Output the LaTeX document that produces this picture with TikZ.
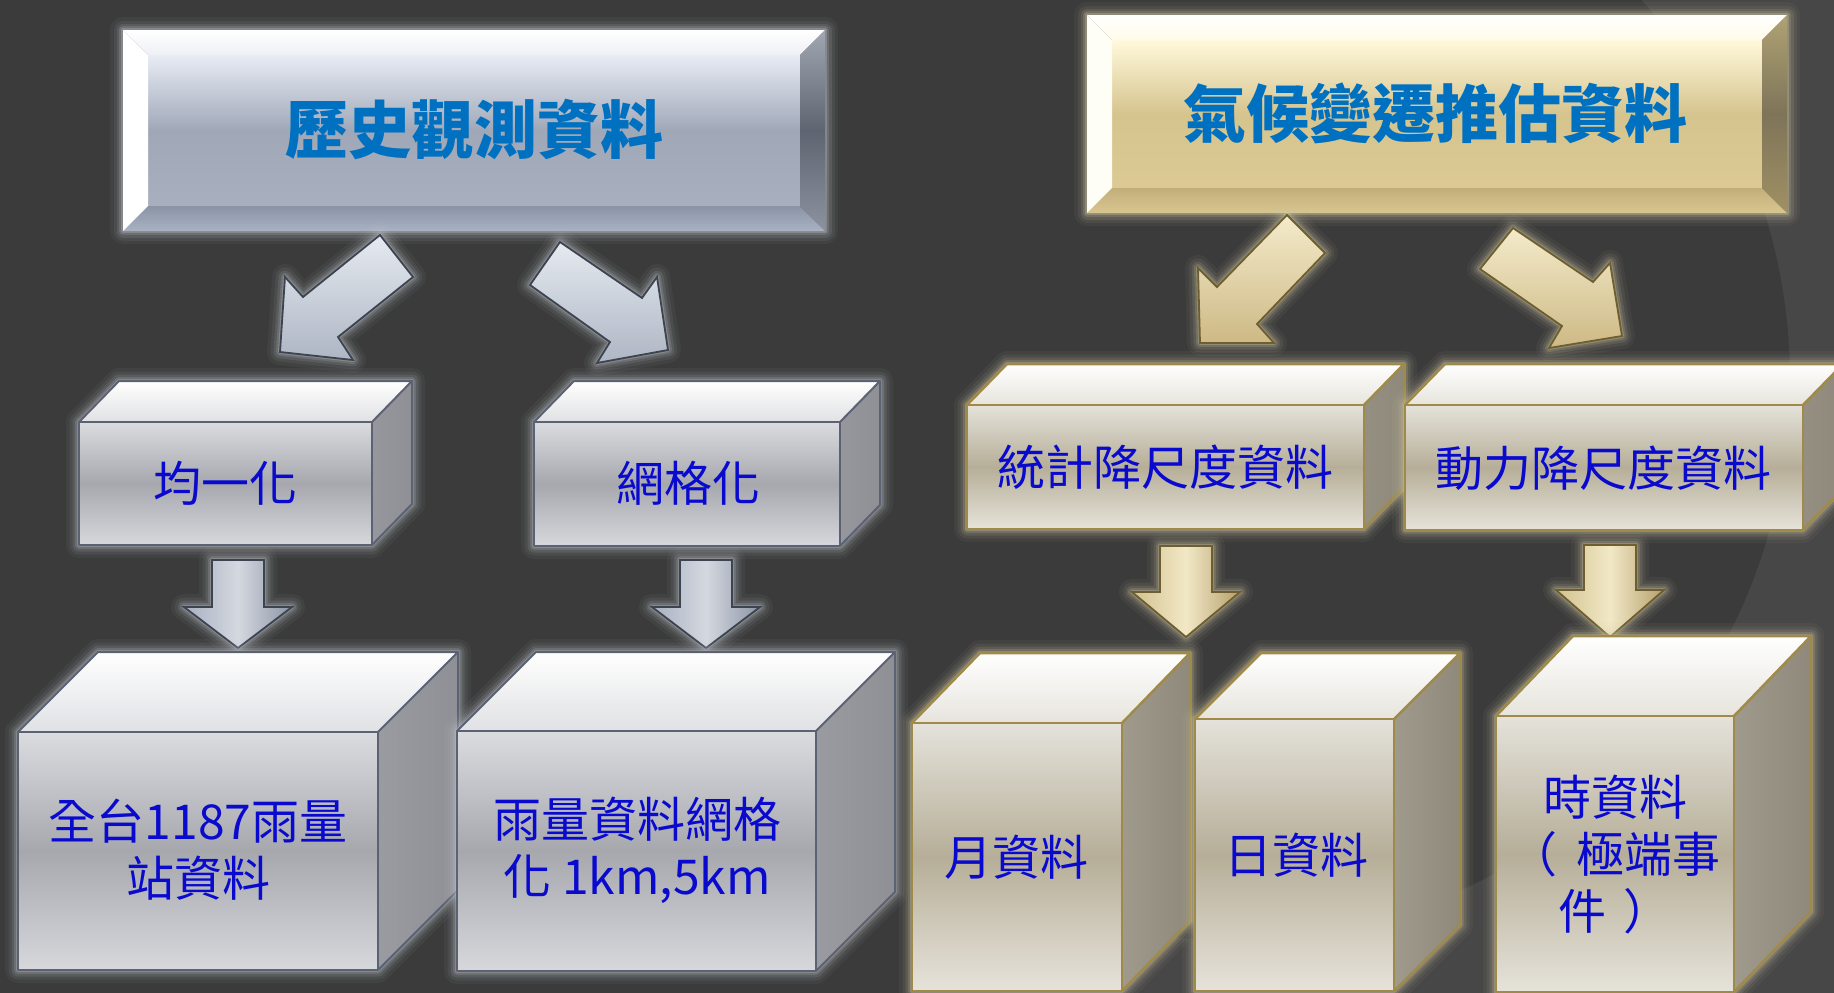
\documentclass[tikz,border=0pt]{standalone}
\usepackage{fontspec}
\newfontfamily\cjk{Noto Sans CJK TC}
\usetikzlibrary{calc}
\definecolor{bg}{HTML}{3B3B3B}
\definecolor{bgl}{HTML}{474747}
\definecolor{ttl}{HTML}{0070C0}
\definecolor{txt}{HTML}{0A0ACF}
\definecolor{sglow}{HTML}{C4C8D0}
\definecolor{gglow}{HTML}{D2CAA6}
\definecolor{sedge}{HTML}{5A6274}
\definecolor{gedge}{HTML}{A08A4A}
\def\defhtml#1{\definecolor{HTML-#1}{HTML}{#1}}
\defhtml{DADCE0}\defhtml{D6D8DC}\defhtml{A6A8AE}\defhtml{E0E1E4}\defhtml{CDCED2}\defhtml{8E9096}
\defhtml{E4E2DA}\defhtml{E6E3DA}\defhtml{B6AE98}\defhtml{E6E4DC}\defhtml{D4D0C4}\defhtml{8E897A}
\defhtml{E8ECF4}\defhtml{A8B0C0}\defhtml{A0A8B8}\defhtml{EEF0F5}\defhtml{8A94A6}\defhtml{A8B2C2}
\defhtml{A0A6B2}\defhtml{8C92A0}\defhtml{5E6470}\defhtml{FFF9DC}\defhtml{DCCA94}\defhtml{D6C48E}
\defhtml{FFFBEA}\defhtml{FFFEF6}\defhtml{C2AE78}\defhtml{D8C690}\defhtml{B0A274}\defhtml{A09064}
\defhtml{7E7458}\defhtml{E6EAF0}\defhtml{AEB6C4}\defhtml{3C4452}\defhtml{F4EBCB}\defhtml{CDB985}
\defhtml{6E5E30}\defhtml{8C94A4}\defhtml{D4D8E0}\defhtml{D2C290}\defhtml{B4A06C}\defhtml{F2E8C6}
\tikzset{
  sfront/.style={top color=HTML-DADCE0, bottom color=HTML-D6D8DC, middle color=HTML-A6A8AE},
  stop/.style={top color=white, bottom color=HTML-E0E1E4},
  sside/.style={left color=HTML-CDCED2, right color=HTML-8E9096},
  sedgeS/.style={draw=sedge, line width=2pt, line join=round},
  gfront/.style={top color=HTML-E4E2DA, bottom color=HTML-E6E3DA, middle color=HTML-B6AE98},
  gtop/.style={top color=white, bottom color=HTML-E6E4DC},
  gside/.style={left color=HTML-D4D0C4, right color=HTML-8E897A},
  gedgeS/.style={draw=gedge, line width=2.5pt, line join=round},
  sface/.style={top color=HTML-E8ECF4, bottom color=HTML-A8B0C0, middle color=HTML-A0A8B8},
  stopb/.style={top color=white, bottom color=HTML-EEF0F5},
  sleftb/.style={fill=white},
  sbotb/.style={top color=HTML-8A94A6, bottom color=HTML-A8B2C2},
  srightb/.style={top color=HTML-A0A6B2, bottom color=HTML-8C92A0, middle color=HTML-5E6470},
  gface/.style={top color=HTML-FFF9DC, bottom color=HTML-DCCA94, middle color=HTML-D6C48E},
  gtopb/.style={top color=white, bottom color=HTML-FFFBEA},
  gleftb/.style={fill=HTML-FFFEF6},
  gbotb/.style={top color=HTML-C2AE78, bottom color=HTML-D8C690},
  grightb/.style={top color=HTML-B0A274, bottom color=HTML-A09064, middle color=HTML-7E7458},
  sarrow/.style={top color=HTML-E6EAF0, bottom color=HTML-AEB6C4},
  sarrowedge/.style={draw=HTML-3C4452, line width=1.8pt, line join=miter},
  garrow/.style={top color=HTML-F4EBCB, bottom color=HTML-CDB985},
  garrowedge/.style={draw=HTML-6E5E30, line width=1.8pt, line join=miter},
  sdown/.style={left color=HTML-A8B0C0, right color=HTML-8C94A4, middle color=HTML-D4D8E0},
  gdown/.style={left color=HTML-D2C290, right color=HTML-B4A06C, middle color=HTML-F2E8C6},
  titletext/.style={font=\cjk\bfseries\fontsize{63}{75}\selectfont, text=ttl, inner sep=0pt},
  bodytext/.style={font=\cjk\fontsize{48}{57}\selectfont, text=txt, inner sep=0pt, align=center},
}
\newcommand\glowpath[2]{%
  \foreach \w/\o in {26/0.05,19/0.08,13/0.12,8/0.18,4/0.3}{%
    \draw[#1,line width=\w pt,opacity=\o,line join=round] #2;}}
% x y w h dx dy prefix
\newcommand\cubeshape[7]{%
  \glowpath{#7glow}{(#1,#2) -- ++(#5,-#6) -- ++(#3,0) -- ++(0,#4) -- ++(-#5,#6) -- ++(-#3,0) -- cycle}
  \shade[#7front] (#1,#2) rectangle ++(#3,#4);
  \shade[#7top] (#1,#2) -- ++(#5,-#6) -- ++(#3,0) -- ++(-#5,#6) -- cycle;
  \shade[#7side] (#1,#2) ++(#3,0) -- ++(#5,-#6) -- ++(0,#4) -- ++(-#5,#6) -- cycle;
  \draw[#7edgeS] (#1,#2) rectangle ++(#3,#4);
  \draw[#7edgeS] (#1,#2) -- ++(#5,-#6) -- ++(#3,0) -- ++(-#5,#6);
  \draw[#7edgeS] (#1,#2) ++(#3+#5,-#6) -- ++(0,#4) -- ++(-#5,#6);
}
% x1 y1 x2 y2 b prefix
\newcommand\bevelbox[6]{%
  \glowpath{#6glow}{(#1,#2) rectangle (#3,#4)}
  \shade[#6face] ({#1+#5},{#2+#5}) rectangle ({#3-#5},{#4-#5});
  \shade[#6topb] (#1,#2) -- (#3,#2) -- ({#3-#5},{#2+#5}) -- ({#1+#5},{#2+#5}) -- cycle;
  \shade[#6botb] (#1,#4) -- (#3,#4) -- ({#3-#5},{#4-#5}) -- ({#1+#5},{#4-#5}) -- cycle;
  \fill[#6leftb] (#1,#2) -- ({#1+#5},{#2+#5}) -- ({#1+#5},{#4-#5}) -- (#1,#4) -- cycle;
  \shade[#6rightb] (#3,#2) -- ({#3-#5},{#2+#5}) -- ({#3-#5},{#4-#5}) -- (#3,#4) -- cycle;
}
% cx top headbase tip prefix
\newcommand\dnarrow[5]{%
  \def\dpath{({#1-26},#2) -- ({#1+26},#2) -- ({#1+26},#3) -- ({#1+54},#3) -- (#1,#4) -- ({#1-54},#3) -- ({#1-26},#3) -- cycle}
  \glowpath{#5glow}{\dpath}
  \shade[#5down] \dpath;
  \draw[#5arrowedge] \dpath;
}
\newcommand\diagarrow[2]{%
  \glowpath{#1glow}{#2}
  \shade[#1arrow] #2;
  \draw[#1arrowedge] #2;
}
\begin{document}
\begin{tikzpicture}[x=1pt,y=-1pt]
\useasboundingbox (0,0) rectangle (1834,993);
\fill[bg] (0,0) rectangle (1834,993);
\begin{scope}
  \clip (1500,0) -- (1834,0) -- (1834,993) -- (1000,993) -- cycle;
  \fill[bgl,even odd rule] (1230,380) circle (560) (0,0) rectangle (1834,993);
\end{scope}
% title boxes
\bevelbox{123}{30}{825}{231}{25}{s}
\node[titletext] (hist) at (474,129) {歷史觀測資料};
\bevelbox{1087}{15}{1787}{213}{25}{g}
\node[titletext] (proj) at (1435,113) {氣候變遷推估資料};
% diagonal arrows
\diagarrow{s}{(380,235) -- (413,277) -- (338,337) -- (353,360) -- (280,352) -- (285,277) -- (303,297) -- cycle}
\diagarrow{s}{(560,242) -- (642,298) -- (657,277) -- (668,350) -- (597,363) -- (610,342) -- (530,285) -- cycle}
\diagarrow{g}{(1287,215) -- (1325,253) -- (1257,324) -- (1274,343) -- (1200,343) -- (1198,268) -- (1217,287) -- cycle}
\diagarrow{g}{(1513,228) -- (1593,282) -- (1610,263) -- (1622,336) -- (1549,348) -- (1562,326) -- (1480,269) -- cycle}
% middle row
\cubeshape{79}{422}{293}{123}{40}{41}{s}
\node[bodytext] (homog) at (225,483) {均一化};
\cubeshape{534}{422}{306}{124}{40}{41}{s}
\node[bodytext] (grid) at (688,483) {網格化};
\cubeshape{967}{405}{397}{124}{40}{41}{g}
\node[bodytext] (stat) at (1165,467) {統計降尺度資料};
\cubeshape{1405}{405}{398}{125}{40}{41}{g}
\node[bodytext] (dyn) at (1603,468) {動力降尺度資料};
% down arrows
\dnarrow{238}{560}{607}{648}{s}
\dnarrow{706}{560}{607}{648}{s}
\dnarrow{1186}{546}{592}{637}{g}
\dnarrow{1610}{545}{590}{637}{g}
% bottom row
\cubeshape{18}{732}{360}{238}{80}{80}{s}
\node[bodytext] (stations) at (198,850) {全台1187雨量\\站資料};
\cubeshape{457}{731}{359}{240}{79}{79}{s}
\node[bodytext] (griddata) at (637,850) {雨量資料網格\\化 1km,5km};
\cubeshape{912}{723}{210}{268}{68}{70}{g}
\node[bodytext] (month) at (1016,857) {月資料};
\cubeshape{1195}{719}{199}{272}{66}{66}{g}
\node[bodytext] (day) at (1296,855) {日資料};
\cubeshape{1496}{716}{238}{276}{77}{80}{g}
\node[bodytext] (hour) at (1615,855) {時資料\\（\hspace{0.4em}極端事\\件\hspace{0.35em}）};
\end{tikzpicture}
\end{document}
